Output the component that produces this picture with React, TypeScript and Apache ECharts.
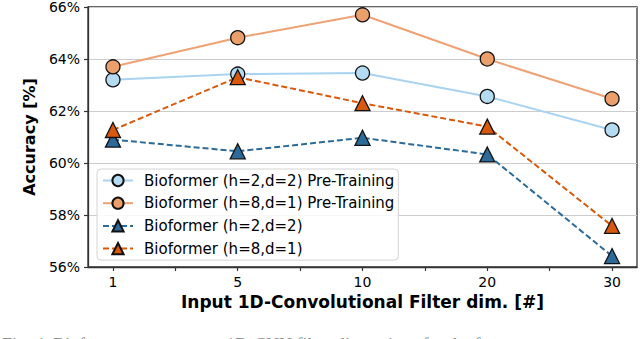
import React, { useEffect, useRef } from "react";
import * as echarts from "echarts";

const categories = ["1", "5", "10", "20", "30"];
const yTicks = [56, 58, 60, 62, 64, 66];
const seriesNames = [
  "Bioformer (h=2,d=2) Pre-Training",
  "Bioformer (h=8,d=1) Pre-Training",
  "Bioformer (h=2,d=2)",
  "Bioformer (h=8,d=1)",
];
const h2d2Pre = [63.2, 63.42, 63.46, 62.56, 61.27];
const h8d1Pre = [63.7, 64.82, 65.7, 64.0, 62.47];
const h2d2 = [60.9, 60.45, 60.97, 60.33, 56.42];
const h8d1 = [61.27, 63.3, 62.3, 61.4, 57.58];

const FONT = "DejaVu Sans";

export default function App() {
  const ref = useRef<HTMLDivElement>(null);
  useEffect(() => {
    if (!ref.current) return;
    const chart = echarts.init(ref.current, null, { renderer: "svg" });
    const toPairs = (arr: number[]) => arr.map((v, i) => [i, v]);
    const mk = (
      name: string,
      data: number[],
      color: string,
      fill: string,
      symbol: string,
      dashed: boolean
    ) => ({
      name,
      type: "line",
      data: toPairs(data),
      symbol,
      symbolSize: symbol === "circle" ? 14 : 15,
      lineStyle: { color, width: 2, type: dashed ? [6, 3] : "solid" },
      itemStyle: { color: fill, borderColor: "#111", borderWidth: 1.3 },
      emphasis: { disabled: true },
    });
    chart.setOption({
      animation: false,
      textStyle: { fontFamily: FONT },
      grid: {
        left: 88,
        right: 3,
        top: 7,
        bottom: 72,
        show: true,
        borderColor: "#333",
        borderWidth: 1.3,
      },
      xAxis: {
        type: "value",
        min: -0.2,
        max: 4.2,
        name: "Input 1D-Convolutional Filter dim. [#]",
        nameLocation: "middle",
        nameGap: 25,
        nameTextStyle: { fontFamily: FONT, fontWeight: "bold", fontSize: 17, color: "#000" },
        axisLine: { show: true, onZero: false, lineStyle: { color: "#333", width: 1.3 } },
        axisTick: {
          show: true,
          length: 4,
          lineStyle: { color: "#333", width: 1.2 },
          customValues: [0, 0.5, 1, 1.5, 2, 2.5, 3, 3.5, 4],
        },
        axisLabel: {
          customValues: [0, 1, 2, 3, 4],
          formatter: (v: number) => categories[Math.round(v)] ?? "",
          fontSize: 14,
          color: "#000",
          margin: 8,
          fontFamily: FONT,
        },
        splitLine: { show: false },
      },
      yAxis: {
        type: "value",
        min: 56,
        max: 66,
        interval: 2,
        name: "Accuracy [%]",
        nameLocation: "middle",
        nameGap: 47,
        nameTextStyle: { fontFamily: FONT, fontWeight: "bold", fontSize: 16, color: "#000" },
        axisLine: { show: true, onZero: false, lineStyle: { color: "#333", width: 1.3 } },
        axisTick: { show: true, length: 4, lineStyle: { color: "#333", width: 1.2 } },
        axisLabel: {
          formatter: (v: number) => (yTicks.includes(v) ? `${v}%` : ""),
          fontSize: 14,
          color: "#000",
          margin: 8,
          fontFamily: FONT,
        },
        splitLine: { show: true, lineStyle: { color: "#cccccc", width: 1 } },
      },
      legend: {
        orient: "vertical",
        left: 97,
        top: 169,
        padding: [4, 4, 4, 5],
        itemWidth: 30,
        itemHeight: 14,
        itemGap: 7.7,
        backgroundColor: "rgba(255,255,255,0.85)",
        borderColor: "#d4d4d4",
        borderWidth: 1,
        borderRadius: 4,
        textStyle: { fontFamily: FONT, fontSize: 15, color: "#000", padding: [0, 0, 0, 6] },
        data: seriesNames,
      },
      series: [
        mk(seriesNames[0], h2d2Pre, "#a9d3f0", "#b5dbf3", "circle", false),
        mk(seriesNames[1], h8d1Pre, "#eea274", "#eba06c", "circle", false),
        mk(seriesNames[2], h2d2, "#2b6a99", "#2b6a99", "triangle", true),
        mk(seriesNames[3], h8d1, "#d8580c", "#d8580c", "triangle", true),
      ],
      graphic: [
        {
          type: "text",
          x: 2,
          y: 336,
          silent: true,
          style: {
            text: "Fig. 4. Bioformer accuracy vs. 1D-CNN filter dimensions for the four",
            font: "18px 'Liberation Serif'",
            fill: "#888",
            verticalAlign: "top",
          },
        },
      ],
    });
    return () => chart.dispose();
  }, []);
  return (
    <div
      ref={ref}
      style={{ position: "fixed", left: 0, top: 0, width: 640, height: 339, background: "#fff" }}
    />
  );
}
